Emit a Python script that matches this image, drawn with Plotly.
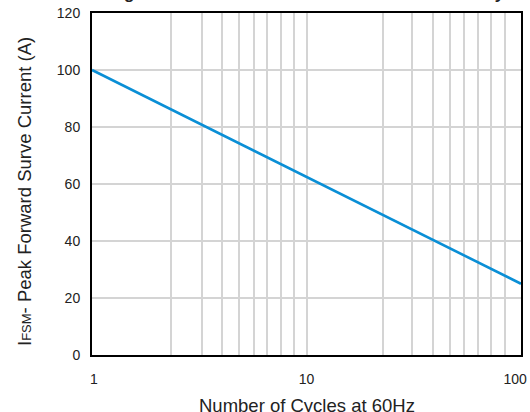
import plotly.graph_objects as go

# Data
cycles = [1, 100]
current = [100, 25]

x_major_ticks = [1, 10, 100]
x_major_labels = ["&nbsp;1", "10", "100&nbsp;&nbsp;&nbsp;"]
# vertical grid lines as drawn in the reference (slightly irregular spacing)
x_minor_grid = [2.33, 3.25, 4.02, 4.83, 5.67, 6.52, 7.57, 8.79,
                22.7, 30.9, 38.8, 46.6, 54.1, 63.1, 72.4, 84.2]
y_ticks = [0, 20, 40, 60, 80, 100, 120]

title_text = "Fig.3 Maximum Forward Current Overload Ability"
x_title = "Number of Cycles at 60Hz"
y_title = "I<span style='font-size:13px'>FSM</span>- Peak Forward Surve Current (A)"

fig = go.Figure()
fig.add_trace(go.Scatter(
    x=cycles, y=current, mode="lines",
    line=dict(color="#0a8fd6", width=2.6),
    showlegend=False, hoverinfo="skip",
))

font_family = "Liberation Sans, Arial, sans-serif"
txt = "#222222"

fig.update_layout(
    width=530, height=412,
    margin=dict(l=92, r=9, t=13, b=57),
    paper_bgcolor="white", plot_bgcolor="white",
    font=dict(family=font_family, color=txt, size=14),
)

fig.update_xaxes(
    type="log", range=[0, 2], automargin=False,
    tickvals=x_major_ticks, ticktext=x_major_labels,
    ticklabeloverflow="allow",
    showgrid=True, gridcolor="#d4d4d4", gridwidth=2,
    minor=dict(tickvals=x_minor_grid, showgrid=True, gridcolor="#d4d4d4", gridwidth=2, ticks=""),
    showline=True, linecolor="black", linewidth=2, mirror=True,
    ticks="", ticklabelstandoff=10,
    tickfont=dict(size=14, color=txt),
    zeroline=False,
)
fig.update_yaxes(
    range=[0, 120], tickvals=y_ticks, automargin=False,
    showgrid=True, gridcolor="#d4d4d4", gridwidth=2,
    showline=True, linecolor="black", linewidth=2, mirror=True,
    ticks="", ticklabelstandoff=7,
    tickfont=dict(size=14, color=txt),
    zeroline=False,
)

# axis titles
fig.add_annotation(
    text=x_title, xref="paper", yref="paper", x=0.5, y=0,
    xanchor="center", yanchor="middle", yshift=-50, showarrow=False,
    font=dict(size=18.5, color=txt, family=font_family),
)
fig.add_annotation(
    text=y_title, xref="paper", yref="paper", x=0, y=0.5,
    xanchor="center", yanchor="middle", xshift=-68, yshift=-8, textangle=-90,
    showarrow=False, font=dict(size=18.5, color=txt, family=font_family),
)

# title mostly clipped at the top edge, as in the reference
fig.add_annotation(
    text="<b>" + title_text + "</b>", xref="paper", yref="paper",
    x=0.5, y=1.0, yanchor="bottom", yshift=8, showarrow=False,
    font=dict(size=17, color=txt, family=font_family),
)

fig.write_html(
    "out.html",
    config={"displayModeBar": False},
    post_script="document.body.style.margin='0';document.body.style.overflow='hidden';",
)
